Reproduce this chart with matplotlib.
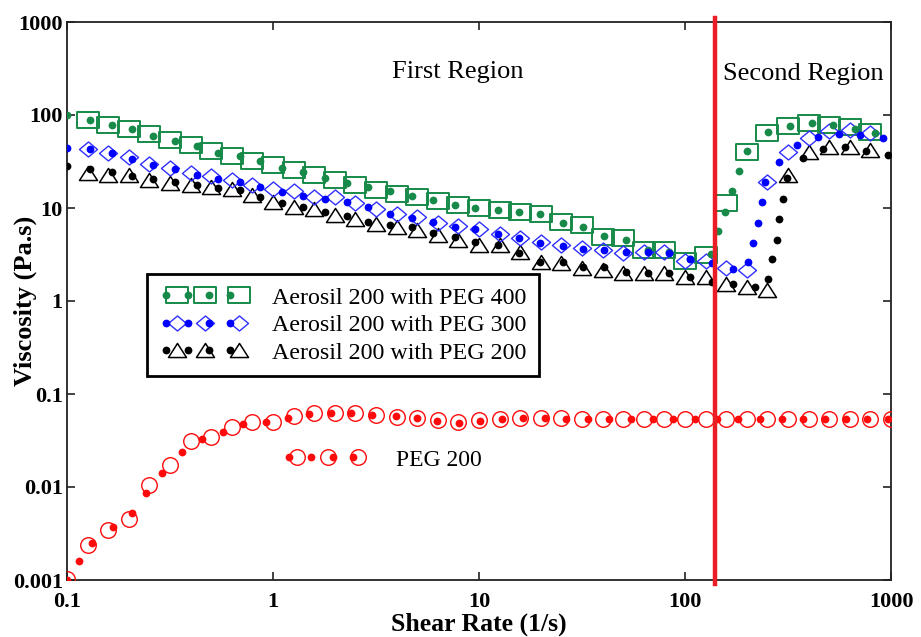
import numpy as np
import matplotlib
matplotlib.use("Agg")
import matplotlib.pyplot as plt
from matplotlib.path import Path
from matplotlib.lines import Line2D
from matplotlib.legend_handler import HandlerBase

plt.rcParams['font.family'] = ['Liberation Serif', 'DejaVu Serif']

# ---------------- data ----------------
# open-marker series (10 points per decade)
shear_open = [0.1, 0.126, 0.158, 0.2, 0.251, 0.316, 0.398, 0.501, 0.631, 0.794,
              1.0, 1.26, 1.58, 2.0, 2.51, 3.16, 3.98, 5.01, 6.31, 7.94,
              10, 12.6, 15.8, 20, 25.1, 31.6, 39.8, 50.1, 63.1, 79.4,
              100, 126, 158, 200, 251, 316, 398, 501, 631, 794, 1000]

peg400_open_y = [88, 79, 70, 62, 54, 47, 41, 36, 32, 29, 25.6, 22.6, 20, 17.7, 15.6,
                 14.2, 13.2, 12.0, 10.8, 9.9, 9.5, 9.1, 8.6, 7.1, 6.6, 4.9, 4.7, 3.5,
                 3.5, 2.7, 3.1, 11.2, 40, 64, 76, 83, 79, 74, 66]
peg300_open_y = [42.8, 38.7, 35.6, 29.7, 26.7, 24.0, 22.1, 20.0, 17.7, 15.9, 15.3, 13.2,
                 13.0, 11.2, 9.7, 8.6, 8.1, 6.9, 6.4, 6.0, 5.25, 4.7, 4.3, 4.0, 3.7, 3.5,
                 3.26, 3.4, 3.4, 2.7, 2.7, 2.25, 2.15, 19.2, 40, 56, 68, 69, 64]
peg200_open_y = [24, 22.6, 22.6, 20, 18.7, 17.7, 16.9, 15.9, 13.8, 11.7, 10.3, 9.7, 8.4,
                 7.7, 6.8, 6.3, 5.8, 5.1, 4.5, 4.0, 4.0, 3.4, 2.65, 2.54, 2.25, 2.15,
                 1.99, 1.99, 1.99, 1.82, 1.82, 1.52, 1.43, 1.31, 22.6, 40, 45.6, 45, 42]
pure_open_y = [0.00102, 0.00238, 0.00345, 0.0045, 0.0105, 0.0173, 0.0315, 0.0348, 0.0445,
               0.0497, 0.0504, 0.058, 0.062, 0.063, 0.062, 0.0594, 0.057, 0.0548, 0.0525,
               0.0497, 0.0525, 0.0535, 0.0548, 0.055, 0.055, 0.054, 0.054, 0.054, 0.054,
               0.054, 0.054, 0.054, 0.054, 0.054, 0.054, 0.054, 0.054, 0.054, 0.054,
               0.054, 0.054]

# filled-dot series
dot_x_low = [0.1, 0.129, 0.165, 0.207, 0.262, 0.334, 0.428, 0.541, 0.692, 0.865,
             1.106, 1.40, 1.79, 2.29, 2.89, 3.70, 4.73, 5.98, 7.65, 9.57,
             12.4, 15.6, 19.8, 25.6, 32.0, 40.4, 51.7, 66.1, 83.6, 106]
peg400_dot_x_high = [134, 145, 156, 169, 183, 200, 253, 324, 414, 523, 669, 836]
peg300_dot_x_high = [135, 171, 202, 214, 226, 237, 245, 286, 350, 442, 559, 707, 915]
peg200_dot_x_high = [135, 171, 219, 253, 264, 280, 286, 299, 313, 374, 468, 598, 756, 967]

peg400_dot_y = [100, 88, 78, 70, 60, 52, 46, 39.5, 36, 32, 27, 24.5, 21, 18.6, 16.7, 15.4,
                13.4, 12.2, 10.8, 9.9, 9.5, 9.1, 8.6, 6.9, 6.3, 5.0, 4.5, 3.5, 3.4, 2.8,
                3.2, 5.6, 9.1, 15.2, 25, 41, 65, 76, 83, 79, 71, 64]
peg300_dot_y = [43.9, 42.8, 39.4, 33.4, 29, 26, 22.6, 20.4, 19.2, 16.9, 15.0, 13.5, 12.4,
                11.7, 10.2, 8.6, 7.9, 7.1, 6.3, 5.9, 5.25, 4.7, 4.2, 3.9, 3.6, 3.5, 3.4,
                3.4, 3.3, 2.8, 2.54, 2.2, 2.6, 4.2, 6.9, 11.5, 19.2, 31.5, 48, 58, 62,
                61, 56]
peg200_dot_y = [28.3, 26, 24.5, 22.1, 20.4, 19.2, 17.7, 16.3, 15.6, 13.0, 11.2, 10.3, 9.1,
                8.2, 7.1, 6.6, 6.2, 5.4, 4.9, 4.3, 4.0, 3.26, 2.65, 2.65, 2.34, 2.3, 2.07,
                1.99, 1.99, 1.80, 1.61, 1.52, 1.40, 1.71, 2.8, 4.5, 7.6, 12.4, 20.9, 34.2,
                42.8, 45, 41.3, 37.2]

pure_dot_x = [0.1, 0.114, 0.132, 0.167, 0.207, 0.242, 0.289, 0.362, 0.452, 0.572, 0.715,
              0.925, 1.18, 1.50, 1.91, 2.39, 3.02, 3.96, 5.00, 6.25, 8.0, 10.1, 12.9,
              16.4, 20.9, 26.4, 33.8, 42.8, 54.7, 70.0, 87.5, 112, 143, 181, 231, 296,
              374, 478, 605, 764, 967]
pure_dot_y = [0.001, 0.00161, 0.00252, 0.00374, 0.0053, 0.0087, 0.0143, 0.0236, 0.0326,
              0.0387, 0.0472, 0.0504, 0.0556, 0.0605, 0.063, 0.062, 0.0594, 0.058,
              0.0548, 0.0513, 0.0491, 0.0513, 0.0535, 0.055, 0.055, 0.054, 0.054, 0.054,
              0.054, 0.054, 0.054, 0.054, 0.054, 0.054, 0.054, 0.054, 0.054, 0.054,
              0.054, 0.054, 0.054]

region_boundary = 140
x_ticks = [0.1, 1, 10, 100, 1000]
x_tick_labels = ['0.1', '1', '10', '100', '1000']
y_ticks = [0.001, 0.01, 0.1, 1, 10, 100, 1000]
y_tick_labels = ['0.001', '0.01', '0.1', '1', '10', '100', '1000']
series_labels = ['Aerosil 200 with PEG 400', 'Aerosil 200 with PEG 300',
                 'Aerosil 200 with PEG 200']
pure_label = 'PEG 200'

# ---------------- styles ----------------
GREEN = '#178a4a'
BLUE = '#0000ff'
BLUE_OPEN = '#3030ff'
BLACK = '#000000'
RED = '#ff0a0a'

rect_marker = Path([(-1, -0.7), (1, -0.7), (1, 0.7), (-1, 0.7), (-1, -0.7)], closed=True)
diamond_marker = Path([(-1, 0), (0, -0.83), (1, 0), (0, 0.83), (-1, 0)], closed=True)
tri_marker = Path([(-1, -0.78), (1, -0.78), (0, 0.78), (-1, -0.78)], closed=True)

fig = plt.figure(figsize=(9.21, 6.37), dpi=100)
ax = fig.add_axes([67 / 921, 1 - 580 / 637, 824 / 921, 558 / 637])
ax.set_xscale('log')
ax.set_yscale('log')
ax.set_xlim(0.1, 1000)
ax.set_ylim(0.001, 1000)

# PEG 200 (pure)
red_open, = ax.plot(shear_open, pure_open_y, ls='none', marker='o', ms=11.2,
                    mfc='none', mec=RED, mew=1.0, zorder=3)
red_dot, = ax.plot(pure_dot_x, pure_dot_y, ls='none', marker='o', ms=5.6,
                   mfc=RED, mec=RED, mew=0, zorder=4)

# Aerosil with PEG 200
k_open, = ax.plot(shear_open[1:40], peg200_open_y, ls='none', marker=tri_marker, ms=13,
                  mfc='none', mec=BLACK, mew=1.1, zorder=3)
k_dot, = ax.plot(dot_x_low + peg200_dot_x_high, peg200_dot_y, ls='none', marker='o',
                 ms=5.6, mfc=BLACK, mec=BLACK, mew=0, zorder=4)

# Aerosil with PEG 400
g_open, = ax.plot(shear_open[1:40], peg400_open_y, ls='none', marker=rect_marker, ms=15.8,
                  mfc='none', mec=GREEN, mew=1.4, zorder=3)
g_dot, = ax.plot(dot_x_low + peg400_dot_x_high, peg400_dot_y, ls='none', marker='o',
                 ms=5.6, mfc=GREEN, mec=GREEN, mew=0, zorder=4)

# Aerosil with PEG 300
b_open, = ax.plot(shear_open[1:40], peg300_open_y, ls='none', marker=diamond_marker, ms=13,
                  mfc='none', mec=BLUE_OPEN, mew=1.0, zorder=3)
b_dot, = ax.plot(dot_x_low + peg300_dot_x_high, peg300_dot_y, ls='none', marker='o',
                 ms=5.6, mfc=BLUE, mec=BLUE, mew=0, zorder=4)

ax.axvline(region_boundary, ymin=-0.007, ymax=1.008, color='#ea1c24', lw=3.2,
           zorder=5, clip_on=False)

# ---------------- axes styling ----------------
for s in ax.spines.values():
    s.set_linewidth(1.3)
    s.set_color('#222222')
ax.set_xticks(x_ticks)
ax.set_xticklabels(x_tick_labels)
ax.set_yticks(y_ticks)
ax.set_yticklabels(y_tick_labels)
ax.minorticks_off()
ax.tick_params(axis='both', which='major', direction='in', length=6, width=1.2,
               top=True, right=True, color='#222222', labelsize=16)
ax.tick_params(axis='x', pad=8.5)
ax.tick_params(axis='y', pad=3)
for lab in ax.get_xticklabels() + ax.get_yticklabels():
    lab.set_fontweight('bold')

ax.set_xlabel('Shear Rate (1/s)', fontsize=18.5, fontweight='bold')
ax.set_ylabel('Viscosity (Pa.s)', fontsize=19, fontweight='bold')
ax.xaxis.set_label_coords(0.5, -0.1)
ax.xaxis.label.set_va('bottom')
ax.yaxis.set_label_coords(-0.051, 0.5)
ax.yaxis.label.set_va('center')

ax.text(0.4745, 0.8996, 'First Region', transform=ax.transAxes, ha='center',
        va='baseline', fontsize=19)
ax.text(0.894, 0.896, 'Second Region', transform=ax.transAxes, ha='center',
        va='baseline', fontsize=19)


# ---------------- legends ----------------
class PairHandler(HandlerBase):
    def __init__(self, dot_fracs, mk_fracs, **kw):
        super().__init__(**kw)
        self.dot_fracs = dot_fracs
        self.mk_fracs = mk_fracs

    def create_artists(self, legend, orig_handle, xdescent, ydescent, width, height,
                       fontsize, trans):
        dot, mk = orig_handle
        y = height / 2 - ydescent
        arts = []
        for src, fr in ((mk, self.mk_fracs), (dot, self.dot_fracs)):
            xs = [-xdescent + f * width for f in fr]
            ln = Line2D(xs, [y] * len(xs))
            ln.update_from(src)
            ln.set_linestyle('none')
            ln.set_transform(trans)
            arts.append(ln)
        return arts


handler = PairHandler([0.07, 0.33, 0.57, 0.80], [0.2, 0.52, 0.91])
leg1 = ax.legend([(g_dot, g_open), (b_dot, b_open), (k_dot, k_open)], series_labels,
                 handler_map={tuple: handler}, loc='upper left',
                 bbox_to_anchor=(0.0971, 0.548), borderaxespad=0, fontsize=17.3,
                 handlelength=3.65, handletextpad=1.05, labelspacing=0.24,
                 borderpad=0.52, fancybox=False, framealpha=1, edgecolor='black')
leg1.get_frame().set_linewidth(2.0)
ax.add_artist(leg1)

handler2 = PairHandler([0.07, 0.34, 0.60, 0.85], [0.17, 0.54, 0.91])
leg2 = ax.legend([(red_dot, red_open)], [pure_label],
                 handler_map={tuple: handler2}, loc='center left',
                 bbox_to_anchor=(0.2507, 0.2155), borderaxespad=0, fontsize=17,
                 handlelength=3.5, handletextpad=1.3, frameon=False)

fig.savefig('out.png', dpi=100)
